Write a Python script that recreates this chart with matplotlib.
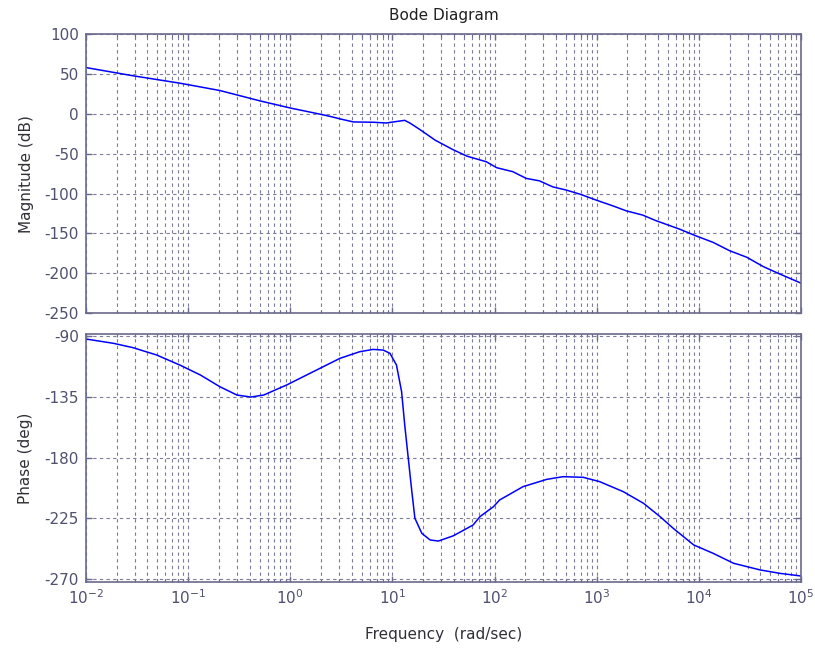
#!/usr/bin/env python
# -*- coding: utf-8 -*-
"""
Bode diagram (magnitude and phase) redrawn from a MATLAB screenshot.
"""
# =========================================================================== #
#  SECTION: Imports
# =========================================================================== #
import matplotlib
matplotlib.use("Agg")
import matplotlib.pyplot as plt
from matplotlib.ticker import LogLocator, NullFormatter

# =========================================================================== #
#  SECTION: Data
# =========================================================================== #
mag_freq = [0.01, 0.0288, 0.083, 0.204, 0.50, 1.0, 2.0, 2.45, 3.1, 4.15,
            6.5, 8.7, 11.9, 13.2, 14.8, 18.6, 26.3, 38.9, 53.7, 83.0,
            105, 151, 204, 275, 372, 501, 692, 1000, 1445, 1950,
            2820, 3800, 6460, 9330, 13800, 19950, 29500, 42700, 61700, 100000]
mag_db = [58.3, 48.0, 38.7, 29.5, 16.6, 7.5, -0.5, -3.0, -6.3, -10.0,
          -10.4, -11.3, -8.8, -8.0, -11.3, -19.6, -33.0, -44.6, -53.0, -60.0,
          -67.5, -72.5, -80.9, -84.0, -91.6, -95.5, -100.9, -108.4, -115.5, -121.7,
          -127.0, -134.0, -144.6, -153.0, -161.3, -171.7, -180.0, -191.7, -200.9, -212.5]

phase_freq = [0.01, 0.0186, 0.0288, 0.049, 0.083, 0.132, 0.204, 0.30, 0.41, 0.55,
              0.92, 1.68, 3.07, 4.79, 6.46, 8.13, 9.46, 10.96, 12.3, 13.2,
              14.3, 15.5, 16.6, 19.4, 23.4, 28.2, 39.5, 61.7, 72.0, 97.7,
              112, 190, 324, 468, 741, 1070, 1820, 2880, 4170, 5620,
              8910, 13800, 21900, 39800, 61700, 100000]
phase_deg = [-92.2, -95.4, -98.6, -104.0, -111.5, -118.9, -127.5, -133.7, -135.2, -133.7,
             -126.3, -116.4, -106.5, -101.6, -99.9, -100.4, -102.8, -111.5, -131.2, -155.9,
             -180.6, -205.3, -225.0, -236.2, -241.1, -241.9, -238.0, -230.0, -223.8, -216.4,
             -211.5, -201.6, -196.2, -194.2, -194.7, -197.9, -205.3, -214.0, -223.8, -232.5,
             -244.8, -251.0, -258.4, -263.3, -265.8, -267.8]

freq_ticks = [1e-2, 1e-1, 1e0, 1e1, 1e2, 1e3, 1e4, 1e5]
freq_labels = ['$10^{-2}$', '$10^{-1}$', '$10^{0}$', '$10^{1}$',
               '$10^{2}$', '$10^{3}$', '$10^{4}$', '$10^{5}$']
mag_ticks = [-250, -200, -150, -100, -50, 0, 50, 100]
phase_ticks = [-270, -225, -180, -135, -90]

# =========================================================================== #
#  SECTION: Styling
# =========================================================================== #
plt.rcParams['font.family'] = ['DejaVu Sans']
plt.rcParams['axes.unicode_minus'] = False
plt.rcParams['mathtext.default'] = 'regular'

AX_COLOR = '#6a6a8c'
TXT_COLOR = '#505070'
LBL_COLOR = '#303038'
GRID_COLOR = '#7c7c98'
LINE_COLOR = '#0000ff'


def style_axes(ax):
    ax.set_xscale('log')
    ax.set_xlim(1e-2, 1e5)
    ax.set_xticks(freq_ticks)
    ax.set_xticklabels(freq_labels)
    ax.xaxis.set_minor_locator(LogLocator(base=10, subs=range(2, 10), numticks=20))
    ax.xaxis.set_minor_formatter(NullFormatter())
    for sp in ax.spines.values():
        sp.set_color(AX_COLOR)
        sp.set_linewidth(1.2)
    ax.tick_params(which='both', direction='in', top=True, right=True,
                   colors=AX_COLOR, labelcolor=TXT_COLOR, labelsize=11)
    ax.tick_params(which='major', length=4.5, width=1.0, pad=5)
    ax.tick_params(which='minor', length=2.2, width=0.8)
    ax.grid(True, which='both', axis='x', color=GRID_COLOR,
            linestyle=(0, (3, 3)), linewidth=0.8)
    ax.grid(True, which='major', axis='y', color=GRID_COLOR,
            linestyle=(0, (3, 3)), linewidth=0.8)
    ax.set_axisbelow(True)


# =========================================================================== #
#  SECTION: Main Body
# =========================================================================== #
fig = plt.figure(figsize=(8.15, 6.51), dpi=100)
ax_mag = fig.add_axes([0.1055, 0.5192, 0.8773, 0.428])
ax_ph = fig.add_axes([0.1055, 0.1065, 0.8773, 0.380])

# magnitude
style_axes(ax_mag)
ax_mag.plot(mag_freq, mag_db, color=LINE_COLOR, linewidth=1.1)
ax_mag.set_ylim(-250, 100)
ax_mag.set_yticks(mag_ticks)
ax_mag.tick_params(axis='x', labelbottom=False)
ax_mag.set_ylabel('Magnitude (dB)', fontsize=11, color=LBL_COLOR, labelpad=8)
ax_mag.set_title('Bode Diagram', fontsize=11, color='#202020', pad=10)

# phase
style_axes(ax_ph)
ax_ph.plot(phase_freq, phase_deg, color=LINE_COLOR, linewidth=1.1)
ax_ph.set_ylim(-272, -88.7)
ax_ph.set_yticks(phase_ticks)
ax_ph.set_ylabel('Phase (deg)', fontsize=11, color=LBL_COLOR, labelpad=8)
ax_ph.set_xlabel('Frequency  (rad/sec)', fontsize=11, color=LBL_COLOR, labelpad=14)

fig.savefig('out.png', dpi=100, facecolor='white')
